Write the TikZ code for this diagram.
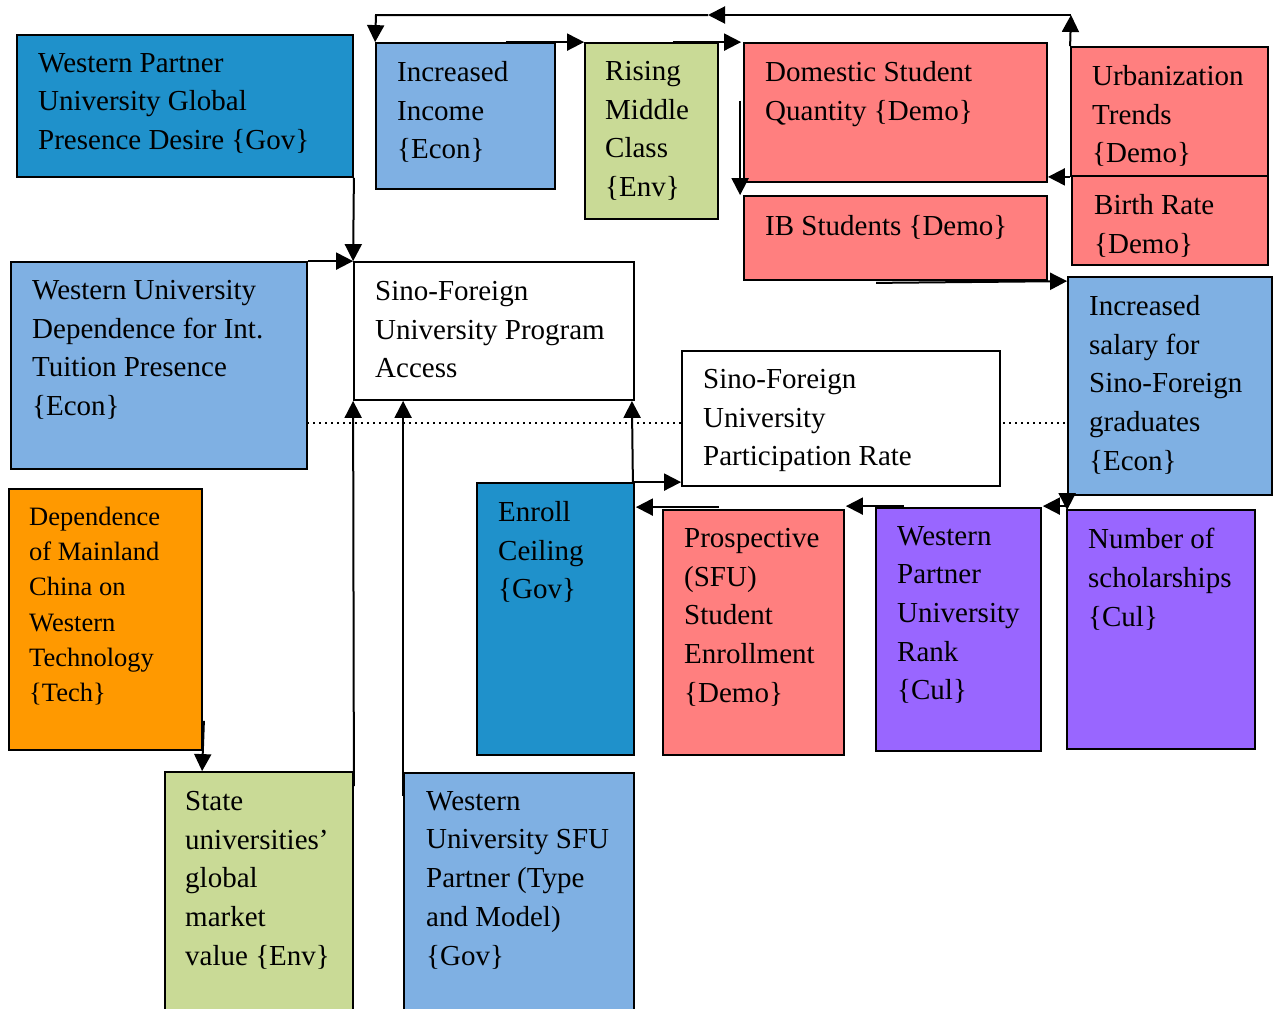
\documentclass[tikz,border=0pt]{standalone}
\usepackage{fontspec}
\setmainfont{Liberation Serif}
\usetikzlibrary{arrows.meta,calc,fit}

\definecolor{govblue}{RGB}{31,145,203}
\definecolor{econblue}{RGB}{127,176,227}
\definecolor{envgreen}{RGB}{201,218,150}
\definecolor{demored}{RGB}{255,127,127}
\definecolor{culpurple}{RGB}{153,102,255}
\definecolor{techorange}{RGB}{255,153,0}

% a filled, framed cell spanning two corner points
\newcommand{\drawcell}[4]{\node[cell, fill=#4, fit={#2 #3}] (#1) {};}

\begin{document}
\begin{tikzpicture}[x=1pt,y=-1pt,
  cell/.style={draw=black, line width=1.8pt, inner sep=0pt},
  lbl/.style={anchor=north west, inner sep=0pt, align=left,
              font=\fontsize{29}{38.7}\selectfont},
  lblsmall/.style={lbl, font=\fontsize{26.5}{35.2}\selectfont},
  conn/.style={line width=2pt, -{Triangle[length=17pt,width=17pt]}},
  dotline/.style={line width=2pt, dash pattern=on 2pt off 4pt}]
\useasboundingbox (0,0) rectangle (1277,1009);

% dotted divider behind the cells
\coordinate (dotL) at (307,423);
\coordinate (dotR) at (1068,423);
\draw[dotline] (dotL) -- (dotR);

% cells
\drawcell{wpg}{(17,35)}{(353,177)}{govblue}
\drawcell{inc}{(376,43)}{(555,189)}{econblue}
\drawcell{rise}{(585,43)}{(718,219)}{envgreen}
\drawcell{dom}{(744,43)}{(1047,182)}{demored}
\drawcell{urb}{(1071,47)}{(1268,176)}{demored}
\drawcell{birth}{(1072,176)}{(1268,265)}{demored}
\drawcell{ib}{(744,196)}{(1047,280)}{demored}
\drawcell{wud}{(11,262)}{(307,469)}{econblue}
\drawcell{acc}{(354,262)}{(634,400)}{white}
\drawcell{part}{(682,351)}{(1000,486)}{white}
\drawcell{sal}{(1068,277)}{(1272,495)}{econblue}
\drawcell{dep}{(9,489)}{(202,750)}{techorange}
\drawcell{enr}{(477,483)}{(634,755)}{govblue}
\drawcell{pro}{(663,510)}{(844,755)}{demored}
\drawcell{rank}{(876,508)}{(1041,751)}{culpurple}
\drawcell{sch}{(1067,510)}{(1255,749)}{culpurple}
\drawcell{state}{(165,772)}{(353,1016)}{envgreen}
\drawcell{sfu}{(404,773)}{(634,1016)}{econblue}

% cell texts
\node[lbl] (wpg-t) at (38,53) {Western Partner\\University Global\\Presence Desire \{Gov\}};
\node[lbl] (inc-t) at (397,61) {Increased\\Income\\\{Econ\}};
\node[lbl] (rise-t) at (605,61) {Rising\\Middle\\Class\\\{Env\}};
\node[lbl] (dom-t) at (765,61) {Domestic Student\\Quantity \{Demo\}};
\node[lbl] (urb-t) at (1092,65) {Urbanization\\Trends\\\{Demo\}};
\node[lbl] (birth-t) at (1094,194) {Birth Rate\\\{Demo\}};
\node[lbl] (ib-t) at (765,215) {IB Students \{Demo\}};
\node[lbl] (wud-t) at (32,280) {Western University\\Dependence for Int.\\Tuition Presence\\\{Econ\}};
\node[lbl] (acc-t) at (375,281) {Sino-Foreign\\University Program\\Access};
\node[lbl] (part-t) at (703,369) {Sino-Foreign\\University\\Participation Rate};
\node[lbl] (sal-t) at (1089,295) {Increased\\salary for\\Sino-Foreign\\graduates\\\{Econ\}};
\node[lblsmall] (dep-t) at (29,507) {Dependence\\of Mainland\\China on\\Western\\Technology\\\{Tech\}};
\node[lbl] (enr-t) at (498,501) {Enroll\\Ceiling\\\{Gov\}};
\node[lbl] (pro-t) at (684,528) {Prospective\\(SFU)\\Student\\Enrollment\\\{Demo\}};
\node[lbl] (rank-t) at (897,526) {Western\\Partner\\University\\Rank\\\{Cul\}};
\node[lbl] (sch-t) at (1088,528) {Number of\\scholarships\\\{Cul\}};
\node[lbl] (state-t) at (185,791) {State\\universities'\\global\\market\\value \{Env\}};
\node[lbl] (sfu-t) at (426,791) {Western\\University SFU\\Partner (Type\\and Model)\\\{Gov\}};

% top feedback loop
\coordinate (loopR) at (1071,15);
\coordinate (loopM) at (708,15);
\coordinate (loopL) at (376,15);
\draw[conn] (urb.north west) -- (loopR);
\draw[conn] (loopR) -- (loopM);
\draw[conn] (loopM) -- (loopL) -- (inc.north west);

% top row chain
\draw[conn] ($(inc.north east)+(-50,0)$) -- (rise.north west);
\draw[conn] ($(rise.north east)+(-46,0)$) -- ($(dom.north west)+(-2,0)$);
\draw[conn] ($(dom.west)+(-3,-12)$) -- ($(ib.north west)+(-3,0)$);
\draw[conn] (urb.south west) -- (dom.east |- urb.south west);
\draw[conn] ($(ib.south west)+(133,2)$) -- ($(sal.north west)+(0,5)$);

% into program access
\draw[conn] (wpg.south east) -- (acc.north west);
\draw[conn] (wud.north east) -- (acc.north west);
\draw[conn] ($(state.north east)+(0,15)$) -- (acc.south west);
\draw[conn] ($(sfu.north west)+(0,24)$) -- (acc.south west -| sfu.north west);
\draw[conn] ($(enr.north east)+(-2,0)$) -- ($(acc.south east)+(-3,0)$);

% participation chain
\draw[conn] ($(enr.north east)+(-2,0)$) -- (part.south west |- enr.north east);
\draw[conn] ($(pro.north west)+(57,-2)$) -- ($(enr.north east)+(1,25)$);
\draw[conn] ($(rank.north west)+(29,-1)$) -- ($(pro.north east)+(1,-3)$);
\draw[conn] ($(sch.north west)+(1,-3)$) -- ($(rank.north east)+(1,-1)$);
\draw[conn] (sal.south west) -- ($(sch.north west)+(1,1)$);

% technology dependence into state universities
\draw[conn] ($(dep.south east)+(1,-30)$) -- ($(state.north west)+(38,0)$);
\end{tikzpicture}
\end{document}
